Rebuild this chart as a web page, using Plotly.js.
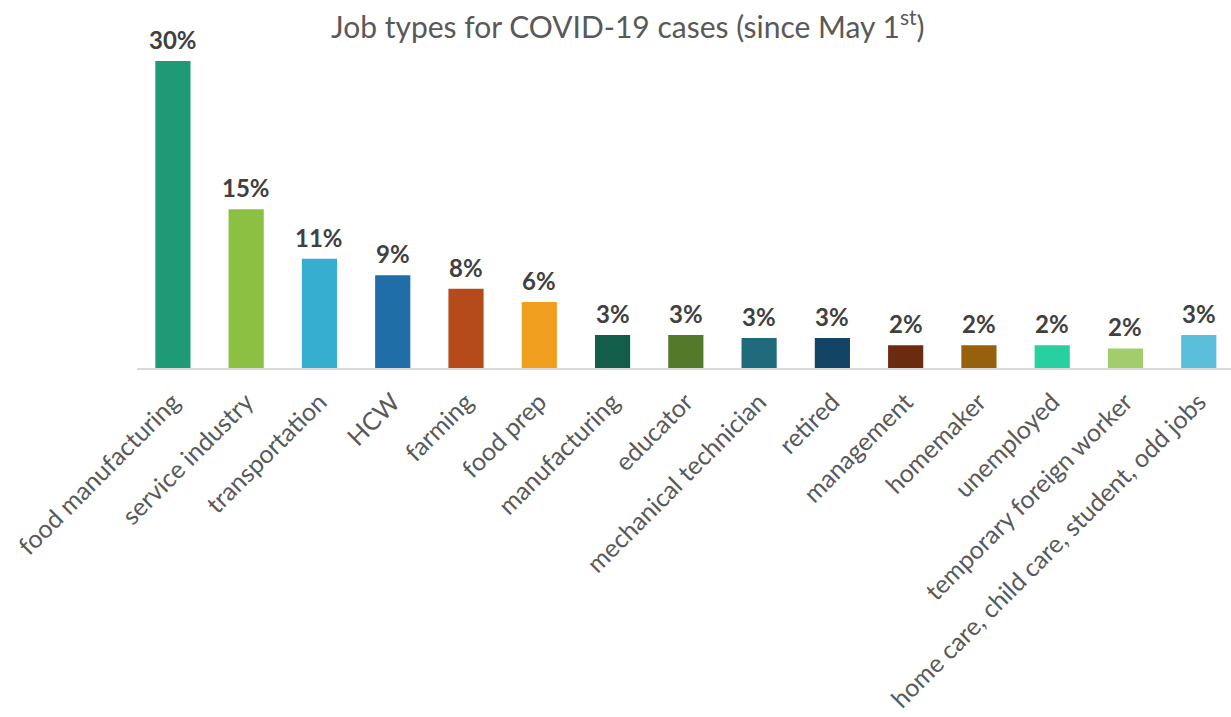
<!DOCTYPE html>
<html>
<head>
<meta charset="utf-8">
<script src="https://cdn.plot.ly/plotly-3.0.1.min.js"></script>
<style>html,body{margin:0;padding:0;background:#fff;}#chart{width:1231px;height:717px;}</style>
</head>
<body>
<div id="chart"></div>
<script>
var categories = ["food manufacturing","service industry","transportation","HCW","farming","food prep","manufacturing","educator","mechanical technician","retired","management","homemaker","unemployed","temporary foreign worker","home care, child care, student, odd jobs"];
var values = [29.8, 15.4, 10.6, 9.0, 7.7, 6.4, 3.2, 3.2, 2.9, 2.9, 2.2, 2.2, 2.2, 1.9, 3.2];
var valueLabels = ["30%","15%","11%","9%","8%","6%","3%","3%","3%","3%","2%","2%","2%","2%","3%"];
var colors = ["#1f9a77","#8bc043","#35aecf","#1f6ea8","#b54b1a","#f09e1d","#125e4a","#537a2a","#1f6a7c","#134466","#6b2b10","#97600c","#28d0a0","#a2cd6d","#5bbfdb"];

var trace = {
  type: "bar",
  x: categories,
  y: values,
  marker: {color: colors},
  hoverinfo: "x+y"
};

var annotations = categories.map(function(c, i){
  return {x: c, y: values[i], text: valueLabels[i], showarrow: false, xref: "x", yref: "y",
    yanchor: "bottom", yshift: 5,
    font: {family: "Lato, 'Open Sans', sans-serif", size: 24, color: "#404040", weight: 700}};
});

var layout = {
  width: 1231, height: 717,
  margin: {l: 137, r: 0, t: 61, b: 349},
  paper_bgcolor: "#fff", plot_bgcolor: "#fff",
  bargap: 0.52,
  showlegend: false,
  title: {text: "Job types for COVID-19 cases (since May 1<sup>st</sup>)", x: 0.51, xanchor: "center", y: 0.962, yanchor: "middle",
    font: {family: "Lato, 'Open Sans', sans-serif", size: 30, color: "#595959"}},
  xaxis: {
    range: [-0.49, 14.44],
    tickangle: -45,
    automargin: false,
    ticklabelstandoff: 8,
    showline: true, linecolor: "#d9d9d9", linewidth: 1.5,
    showgrid: false, zeroline: false, ticks: "",
    tickfont: {family: "Lato, 'Open Sans', sans-serif", size: 25, color: "#595959"}
  },
  yaxis: {
    range: [0, 29.8],
    visible: false, showgrid: false, zeroline: false
  },
  annotations: annotations
};

Plotly.newPlot("chart", [trace], layout, {displayModeBar: false, staticPlot: true});
</script>
</body>
</html>
